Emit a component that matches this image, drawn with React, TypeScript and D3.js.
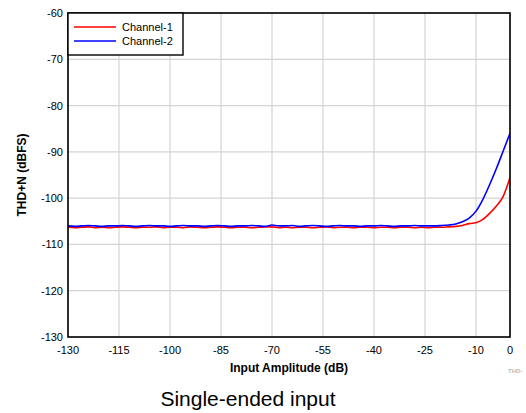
import React, { useEffect, useRef } from 'react';
import * as d3 from 'd3';

// input amplitude (dB), every 2 dB
const amplitude = [
  -130, -128, -126, -124, -122, -120, -118, -116, -114, -112, -110, -108, -106,
  -104, -102, -100, -98, -96, -94, -92, -90, -88, -86, -84, -82, -80, -78, -76,
  -74, -72, -70, -68, -66, -64, -62, -60, -58, -56, -54, -52, -50, -48, -46,
  -44, -42, -40, -38, -36, -34, -32, -30, -28, -26, -24, -22, -20, -18, -16,
  -14, -12, -10, -8, -6, -4, -2, 0,
];

const channel1 = [
  -106.3, -106.4, -106.3, -106.2, -106.4, -106.3, -106.4, -106.3, -106.2, -106.3,
  -106.4, -106.3, -106.3, -106.2, -106.4, -106.3, -106.3, -106.4, -106.2, -106.3,
  -106.4, -106.3, -106.2, -106.3, -106.4, -106.3, -106.3, -106.4, -106.3, -106.2,
  -106.2, -106.4, -106.3, -106.4, -106.3, -106.3, -106.4, -106.3, -106.2, -106.4,
  -106.3, -106.3, -106.4, -106.3, -106.3, -106.4, -106.3, -106.3, -106.4, -106.3,
  -106.3, -106.4, -106.3, -106.4, -106.3, -106.3, -106.2, -106.1, -105.9, -105.5,
  -105.3, -104.6, -103.3, -101.7, -99.6, -95.6,
];

const channel2 = [
  -106.0, -106.1, -106.0, -105.9, -106.0, -106.1, -106.0, -106.0, -105.9, -106.0,
  -106.1, -106.0, -105.9, -106.0, -106.0, -106.1, -106.0, -105.9, -106.0, -106.0,
  -106.1, -106.0, -105.9, -106.0, -106.1, -106.0, -106.0, -105.9, -106.0, -106.1,
  -105.8, -106.0, -106.0, -105.9, -106.1, -106.0, -105.9, -106.0, -106.1, -106.0,
  -105.9, -106.0, -106.0, -106.1, -106.0, -106.0, -105.9, -106.0, -106.1, -106.0,
  -106.0, -105.9, -106.0, -106.0, -106.0, -105.9, -105.8, -105.6, -105.1, -104.3,
  -102.8, -100.3, -97.1, -93.6, -89.8, -86.0,
];

const xTicks = [-130, -115, -100, -85, -70, -55, -40, -25, -10, 0];
const yTicks = [-60, -70, -80, -90, -100, -110, -120, -130];

const series = [
  { name: 'Channel-1', values: channel1, color: '#ff0000' },
  { name: 'Channel-2', values: channel2, color: '#0000ff' },
];

const App: React.FC = () => {
  const ref = useRef(null);

  useEffect(() => {
    if (!ref.current) return;
    const svg = d3.select(ref.current);
    svg.selectAll('*').remove();

    const left = 68;
    const right = 510;
    const top = 13;
    const bottom = 337;
    const font = 'Liberation Sans, Arial, sans-serif';

    const x = d3.scaleLinear().domain([-130, 0]).range([left, right]);
    const y = d3.scaleLinear().domain([-130, -60]).range([bottom, top]);

    // grid
    const grid = svg.append('g').attr('stroke', '#d4d4d4').attr('stroke-width', 1.2);
    xTicks.forEach((t) => {
      grid.append('line').attr('x1', x(t)).attr('x2', x(t)).attr('y1', top).attr('y2', bottom);
    });
    yTicks.forEach((t) => {
      grid.append('line').attr('x1', left).attr('x2', right).attr('y1', y(t)).attr('y2', y(t));
    });

    // lines
    svg
      .append('clipPath')
      .attr('id', 'plot')
      .append('rect')
      .attr('x', left)
      .attr('y', top)
      .attr('width', right - left)
      .attr('height', bottom - top);

    series.forEach((s) => {
      const line = d3
        .line<number>()
        .x((_, i) => x(amplitude[i]))
        .y((d) => y(d))
        .curve(d3.curveMonotoneX);
      svg
        .append('path')
        .datum(s.values)
        .attr('d', line)
        .attr('fill', 'none')
        .attr('stroke', s.color)
        .attr('stroke-width', 1.6)
        .attr('clip-path', 'url(#plot)');
    });

    // frame
    svg
      .append('rect')
      .attr('x', left)
      .attr('y', top)
      .attr('width', right - left)
      .attr('height', bottom - top)
      .attr('fill', 'none')
      .attr('stroke', '#000')
      .attr('stroke-width', 1.6);

    // tick labels
    svg
      .append('g')
      .selectAll('text')
      .data(xTicks)
      .enter()
      .append('text')
      .attr('x', (d) => x(d))
      .attr('y', bottom + 17)
      .attr('text-anchor', 'middle')
      .attr('font-family', font)
      .attr('font-size', 11)
      .text((d) => d);

    svg
      .append('g')
      .selectAll('text')
      .data(yTicks)
      .enter()
      .append('text')
      .attr('x', left - 5)
      .attr('y', (d) => y(d) + 4)
      .attr('text-anchor', 'end')
      .attr('font-family', font)
      .attr('font-size', 11)
      .text((d) => d);

    // axis titles
    svg
      .append('text')
      .attr('x', (left + right) / 2)
      .attr('y', 372)
      .attr('text-anchor', 'middle')
      .attr('font-family', font)
      .attr('font-size', 12)
      .attr('font-weight', 'bold')
      .text('Input Amplitude (dB)');

    svg
      .append('text')
      .attr('transform', `translate(26,${(top + bottom) / 2}) rotate(-90)`)
      .attr('text-anchor', 'middle')
      .attr('font-family', font)
      .attr('font-size', 12)
      .attr('font-weight', 'bold')
      .text('THD+N (dBFS)');

    // legend
    const lg = svg.append('g');
    lg.append('rect')
      .attr('x', left)
      .attr('y', top)
      .attr('width', 115)
      .attr('height', 42)
      .attr('fill', '#fff')
      .attr('stroke', '#000')
      .attr('stroke-width', 1.4);
    series.forEach((s, i) => {
      const ly = top + 14 + i * 14;
      lg.append('line')
        .attr('x1', left + 6)
        .attr('x2', left + 48)
        .attr('y1', ly)
        .attr('y2', ly)
        .attr('stroke', s.color)
        .attr('stroke-width', 1.6);
      lg.append('text')
        .attr('x', left + 54)
        .attr('y', ly + 4)
        .attr('font-family', font)
        .attr('font-size', 11)
        .text(s.name);
    });

    // watermark
    svg
      .append('text')
      .attr('x', 508)
      .attr('y', 373)
      .attr('font-family', font)
      .attr('font-size', 6)
      .attr('font-weight', 'bold')
      .attr('fill', '#bbb')
      .text('THD-');

    svg
      .append('text')
      .attr('x', 248)
      .attr('y', 406)
      .attr('text-anchor', 'middle')
      .attr('font-family', font)
      .attr('font-size', 21)
      .text('Single-ended input');
  }, []);

  return (
    <svg
      ref={ref}
      width={526}
      height={413}
      style={{ position: 'absolute', left: 0, top: 0, background: '#fff' }}
    />
  );
};

export default App;
